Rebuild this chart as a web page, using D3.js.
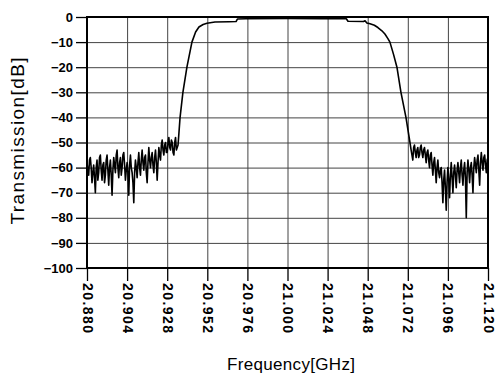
<!DOCTYPE html>
<html lang="en">
<head>
<meta charset="UTF-8">
<title>Transmission</title>
<script src="https://d3js.org/d3.v7.min.js"></script>
<style>
  body { margin: 0; background: #fff; }
  svg { display: block; font-family: "Liberation Sans", Arial, sans-serif; }
</style>
</head>
<body>
<svg id="chart" width="500" height="377"></svg>
<script>
const xTicks = [20.880, 20.904, 20.928, 20.952, 20.976, 21.000, 21.024, 21.048, 21.072, 21.096, 21.120];
const yTicks = [0, -10, -20, -30, -40, -50, -60, -70, -80, -90, -100];

// [frequency GHz, transmission dB]
const lowerStop = [
  [20.8800,-58],[20.8805,-61],[20.8810,-63],[20.8815,-57],[20.8820,-56],[20.8825,-60],
  [20.8830,-66],[20.8835,-62],[20.8840,-59],[20.8845,-64],[20.8850,-70],[20.8855,-60],
  [20.8860,-57],[20.8865,-65],[20.8870,-62],[20.8875,-56],[20.8880,-55],[20.8885,-61],
  [20.8890,-65],[20.8895,-59],[20.8900,-58],[20.8905,-66],[20.8910,-63],[20.8915,-57],
  [20.8920,-55],[20.8925,-61],[20.8930,-67],[20.8935,-60],[20.8940,-57],[20.8945,-63],
  [20.8950,-71],[20.8955,-61],[20.8960,-56],[20.8965,-59],[20.8970,-62],[20.8975,-55],
  [20.8980,-53],[20.8985,-60],[20.8990,-64],[20.8995,-58],[20.9000,-56],[20.9005,-63],
  [20.9010,-60],[20.9015,-55],[20.9020,-54],[20.9025,-59],[20.9030,-65],[20.9035,-61],
  [20.9040,-58],[20.9045,-62],[20.9050,-71],[20.9055,-59],[20.9060,-55],[20.9065,-60],
  [20.9070,-62],[20.9075,-66],[20.9080,-74],[20.9085,-62],[20.9090,-57],[20.9095,-60],
  [20.9100,-64],[20.9105,-58],[20.9110,-54],[20.9115,-60],[20.9120,-63],[20.9125,-57],
  [20.9130,-53],[20.9135,-58],[20.9140,-61],[20.9145,-56],[20.9150,-55],[20.9155,-62],
  [20.9160,-66],[20.9165,-58],[20.9170,-52],[20.9175,-57],[20.9180,-60],[20.9185,-56],
  [20.9190,-54],[20.9195,-59],[20.9200,-62],[20.9205,-56],[20.9210,-53],[20.9215,-58],
  [20.9220,-65],[20.9225,-58],[20.9230,-52],[20.9235,-55],[20.9240,-57],[20.9245,-51],
  [20.9250,-49],[20.9255,-53],[20.9260,-55],[20.9265,-51],[20.9270,-50],[20.9275,-54],
  [20.9280,-54],[20.9285,-50],[20.9290,-48],[20.9295,-52],[20.9300,-53],[20.9305,-49],
  [20.9310,-50],[20.9315,-54],[20.9320,-55],[20.9325,-50],[20.9330,-48],[20.9335,-53],
  [20.9340,-52]
];
const passband = [
  [20.9345,-51],[20.9357,-40],[20.9374,-30],[20.9398,-20],[20.9428,-10],[20.9450,-6],
  [20.9470,-4],[20.9495,-3],[20.9518,-2.5],[20.9566,-2.0],[20.9650,-1.9],[20.9692,-1.8],
  [20.9700,-0.8],[20.9750,-0.7],[21.0000,-0.6],[21.0200,-0.7],[21.0352,-0.7],[21.0362,-1.7],
  [21.0455,-1.8],[21.0464,-1.5],[21.0475,-2.4],[21.0494,-2.7],[21.0520,-3.3],[21.0541,-4.2],
  [21.0565,-5.5],[21.0583,-6.8],[21.0600,-8.5],[21.0613,-10],[21.0635,-15],[21.0655,-20],
  [21.0679,-30],[21.0709,-40],[21.0733,-50]
];
const upperStop = [
  [21.0740,-53],[21.0745,-55],[21.0750,-57],[21.0755,-52],[21.0760,-51],[21.0765,-54],
  [21.0770,-56],[21.0775,-53],[21.0780,-52],[21.0785,-56],[21.0790,-55],[21.0795,-52],
  [21.0800,-51],[21.0805,-54],[21.0810,-56],[21.0815,-53],[21.0820,-52],[21.0825,-55],
  [21.0830,-58],[21.0835,-54],[21.0840,-53],[21.0845,-57],[21.0850,-60],[21.0855,-55],
  [21.0860,-54],[21.0865,-59],[21.0870,-63],[21.0875,-58],[21.0880,-56],[21.0885,-61],
  [21.0890,-66],[21.0895,-60],[21.0900,-57],[21.0905,-62],[21.0910,-64],[21.0915,-61],
  [21.0920,-60],[21.0925,-66],[21.0930,-74],[21.0935,-65],[21.0940,-61],[21.0945,-68],
  [21.0950,-77],[21.0955,-66],[21.0960,-60],[21.0965,-65],[21.0970,-72],[21.0975,-63],
  [21.0980,-58],[21.0985,-64],[21.0990,-70],[21.0995,-62],[21.1000,-59],[21.1005,-63],
  [21.1010,-68],[21.1015,-61],[21.1020,-58],[21.1025,-62],[21.1030,-66],[21.1035,-60],
  [21.1040,-57],[21.1045,-63],[21.1050,-67],[21.1055,-61],[21.1060,-58],[21.1065,-64],
  [21.1070,-80],[21.1075,-62],[21.1080,-57],[21.1085,-61],[21.1090,-66],[21.1095,-60],
  [21.1100,-58],[21.1105,-63],[21.1110,-70],[21.1115,-60],[21.1120,-56],[21.1125,-59],
  [21.1130,-62],[21.1135,-57],[21.1140,-55],[21.1145,-61],[21.1150,-67],[21.1155,-58],
  [21.1160,-54],[21.1165,-58],[21.1170,-61],[21.1175,-56],[21.1180,-55],[21.1185,-59],
  [21.1190,-62],[21.1195,-57],[21.1200,-56]
];

const svg = d3.select("#chart");
const plot = {left: 87, right: 488, top: 17, bottom: 268};

const x = d3.scaleLinear().domain([20.880, 21.120]).range([plot.left, plot.right]);
const y = d3.scaleLinear().domain([-100, 0]).range([plot.bottom, plot.top]);

svg.append("rect").attr("width", 500).attr("height", 377).attr("fill", "#fff");

// grid
svg.append("g")
  .attr("transform", `translate(0,${plot.bottom})`)
  .call(d3.axisBottom(x).tickValues(xTicks).tickSize(-(plot.bottom - plot.top)).tickFormat(""))
  .call(g => g.select(".domain").remove())
  .call(g => g.selectAll("line").attr("stroke", "#444").attr("stroke-width", 1));
svg.append("g")
  .attr("transform", `translate(${plot.left},0)`)
  .call(d3.axisLeft(y).tickValues(yTicks).tickSize(-(plot.right - plot.left)).tickFormat(""))
  .call(g => g.select(".domain").remove())
  .call(g => g.selectAll("line").attr("stroke", "#444").attr("stroke-width", 1));

// axes with labels
const xAxis = svg.append("g")
  .attr("transform", `translate(0,${plot.bottom})`)
  .call(d3.axisBottom(x).tickValues(xTicks).tickSizeInner(13).tickSizeOuter(0).tickFormat(d3.format(".3f")));
xAxis.select(".domain").remove();
xAxis.selectAll("line").attr("stroke", "#000").attr("stroke-width", 1.3);
xAxis.selectAll("text")
  .attr("transform", "rotate(90)")
  .attr("x", 15).attr("y", 0).attr("dy", "0.35em")
  .style("text-anchor", "start")
  .attr("textLength", 50)
  .attr("font-size", 14).attr("font-weight", "bold")
  .attr("font-family", "Liberation Sans, Arial, sans-serif")
  .attr("fill", "#000");

const yAxis = svg.append("g")
  .attr("transform", `translate(${plot.left},0)`)
  .call(d3.axisLeft(y).tickValues(yTicks).tickSizeInner(11).tickSizeOuter(0).tickPadding(3));
yAxis.select(".domain").remove();
yAxis.selectAll("line").attr("stroke", "#000").attr("stroke-width", 1.3);
yAxis.selectAll("text")
  .attr("font-size", 13).attr("font-weight", "bold")
  .attr("font-family", "Liberation Sans, Arial, sans-serif")
  .attr("fill", "#000");

// frame
svg.append("rect")
  .attr("x", plot.left).attr("y", plot.top)
  .attr("width", plot.right - plot.left).attr("height", plot.bottom - plot.top)
  .attr("fill", "none").attr("stroke", "#000").attr("stroke-width", 2);

// curve
const line = d3.line().x(d => x(d[0])).y(d => y(d[1]));
svg.append("path")
  .datum(lowerStop.concat(passband, upperStop))
  .attr("d", line)
  .attr("fill", "none")
  .attr("stroke", "#000")
  .attr("stroke-width", 1.6)
  .attr("stroke-linejoin", "round");

// titles
svg.append("text")
  .attr("x", 291).attr("y", 370)
  .attr("text-anchor", "middle")
  .attr("font-size", 17)
  .attr("textLength", 128)
  .text("Frequency[GHz]");

svg.append("text")
  .attr("transform", "translate(17,141) rotate(-90)")
  .attr("text-anchor", "middle")
  .attr("dominant-baseline", "central")
  .attr("font-size", 19)
  .attr("textLength", 167)
  .text("Transmission[dB]");
</script>
</body>
</html>
